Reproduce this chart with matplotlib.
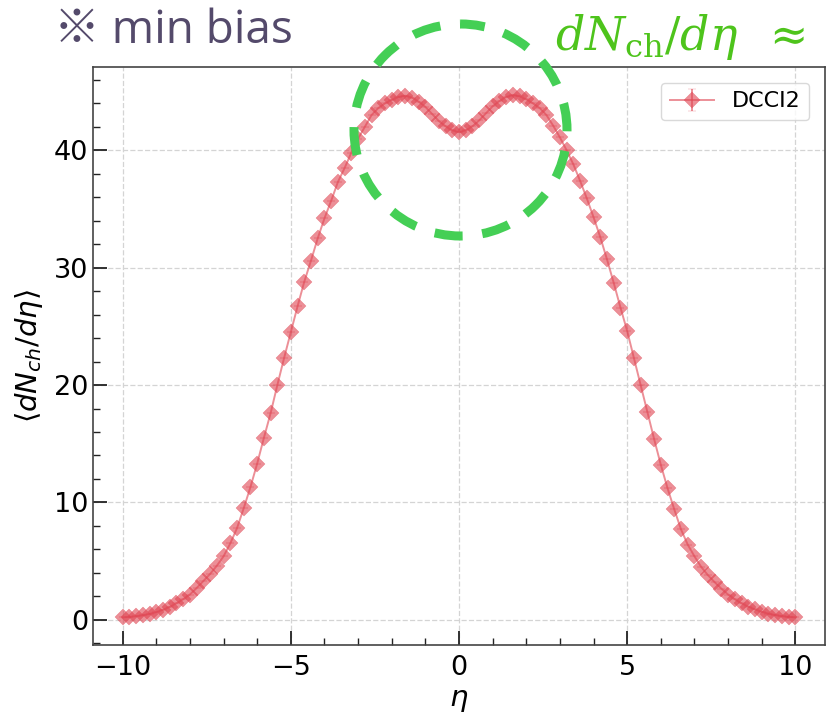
import matplotlib
matplotlib.use("Agg")
import matplotlib.pyplot as plt
from matplotlib.patches import Ellipse
from matplotlib.ticker import MultipleLocator

plt.rcParams["lines.scale_dashes"] = False

# ---- data ----
eta = [-10.0, -9.8, -9.6, -9.4, -9.2, -9.0, -8.8, -8.6, -8.4, -8.2,
       -8.0, -7.8, -7.6, -7.4, -7.2, -7.0, -6.8, -6.6, -6.4, -6.2,
       -6.0, -5.8, -5.6, -5.4, -5.2, -5.0, -4.8, -4.6, -4.4, -4.2,
       -4.0, -3.8, -3.6, -3.4, -3.2, -3.0, -2.8, -2.6, -2.4, -2.2,
       -2.0, -1.8, -1.6, -1.4, -1.2, -1.0, -0.8, -0.6, -0.4, -0.2,
       0.0, 0.2, 0.4, 0.6, 0.8, 1.0, 1.2, 1.4, 1.6, 1.8,
       2.0, 2.2, 2.4, 2.6, 2.8, 3.0, 3.2, 3.4, 3.6, 3.8,
       4.0, 4.2, 4.4, 4.6, 4.8, 5.0, 5.2, 5.4, 5.6, 5.8,
       6.0, 6.2, 6.4, 6.6, 6.8, 7.0, 7.2, 7.4, 7.6, 7.8,
       8.0, 8.2, 8.4, 8.6, 8.8, 9.0, 9.2, 9.4, 9.6, 9.8, 10.0]
dnch_deta = [0.20, 0.24, 0.30, 0.38, 0.50, 0.65, 0.85, 1.10, 1.40, 1.75,
             2.15, 2.70, 3.30, 3.90, 4.60, 5.40, 6.50, 7.80, 9.50, 11.30,
             13.30, 15.50, 17.60, 20.00, 22.30, 24.50, 26.70, 28.80, 30.60, 32.50,
             34.20, 35.70, 37.30, 38.50, 39.80, 41.00, 42.00, 43.00, 43.60, 44.00,
             44.30, 44.55, 44.65, 44.50, 44.15, 43.70, 43.10, 42.50, 42.05, 41.70,
             41.55, 41.70, 42.05, 42.55, 43.15, 43.75, 44.20, 44.55, 44.70, 44.60,
             44.35, 44.00, 43.60, 43.00, 42.10, 41.10, 40.00, 38.80, 37.40, 35.90,
             34.30, 32.60, 30.70, 28.70, 26.60, 24.60, 22.30, 20.00, 17.70, 15.40,
             13.20, 11.20, 9.40, 7.70, 6.40, 5.40, 4.50, 3.80, 3.20, 2.65,
             2.15, 1.75, 1.40, 1.12, 0.88, 0.68, 0.52, 0.40, 0.30, 0.24, 0.20]
dnch_deta_err = 0.0
series_label = "DCCI2"
x_ticks = [-10, -5, 0, 5, 10]
y_ticks = [0, 10, 20, 30, 40]

W, H = 827, 715
fig = plt.figure(figsize=(W / 100, H / 100), dpi=100)

# main axes placed to match the reference pixel box
l, r, t, b = 93, 825, 67, 645
ax = fig.add_axes([l / W, 1 - b / H, (r - l) / W, (b - t) / H])

red = "#e04552"
ax.errorbar(eta, dnch_deta, yerr=dnch_deta_err, fmt="D-", ms=7.8, lw=1.4,
            mew=0.3, color=red, alpha=0.6, capsize=3, label=series_label)

ax.set_xlim(-10.88, 10.88)
ax.set_ylim(-2.15, 47.1)
ax.set_xticks(x_ticks)
ax.set_yticks(y_ticks)
ax.xaxis.set_minor_locator(MultipleLocator(1))
ax.yaxis.set_minor_locator(MultipleLocator(2))
ax.tick_params(which="both", direction="in", top=False, right=False,
               labelsize=19.5, color="#222222")
ax.tick_params(which="major", length=10, width=1.3)
ax.tick_params(which="minor", length=5, width=1.0)
ax.tick_params(axis="x", which="major", pad=7)
for s in ax.spines.values():
    s.set_color("#444444")
    s.set_linewidth(1.2)
ax.grid(True, which="major", linestyle="--", color="#d4d4d4", linewidth=0.9)
ax.set_axisbelow(True)

ax.set_xlabel(r"$\eta$", fontsize=21, labelpad=4)
ax.set_ylabel(r"$\langle dN_{ch}/d\eta\rangle$", fontsize=21, labelpad=6)

leg = ax.legend(loc="upper right", fontsize=16, frameon=True, fancybox=True,
                edgecolor="#d0d0d0", borderaxespad=0.7)

# overlay for slide annotations (pixel coordinates, y downwards)
ov = fig.add_axes([0, 0, 1, 1], zorder=10)
ov.set_xlim(0, W)
ov.set_ylim(H, 0)
ov.axis("off")
ov.patch.set_alpha(0)

ov.text(54, 31, "※ min bias", fontsize=33, color="#544a6b", va="center",
        ha="left", family=["Open Sans", "Noto Sans CJK JP", "DejaVu Sans"])
ov.text(555, 37, r"$dN_{\mathrm{ch}}/d\eta\;\;\approx$", fontsize=33,
        color="#4ec41c", va="center", ha="left", math_fontfamily="dejavuserif")

ell = Ellipse((460.5, 130), 213, 212, fill=False, edgecolor="#44cf55",
              linewidth=6.5, linestyle=(2.7, (20.3, 14.2)))
ov.add_patch(ell)

fig.savefig("out.png", dpi=100)
